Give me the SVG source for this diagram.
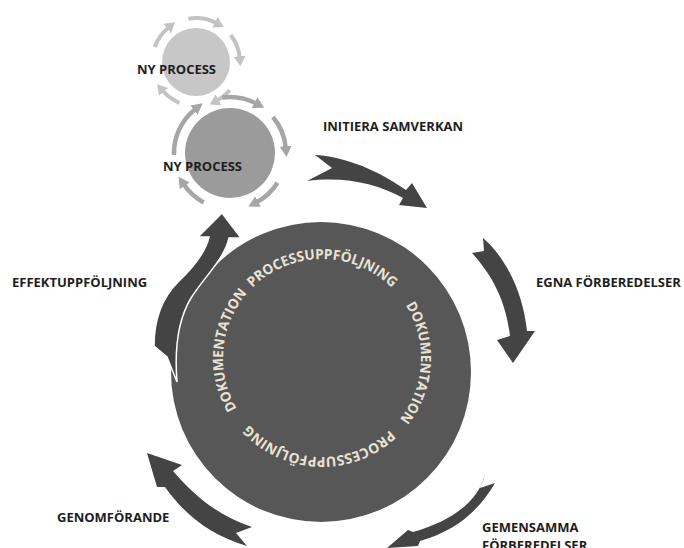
<svg xmlns="http://www.w3.org/2000/svg" width="684" height="548" viewBox="0 0 684 548">
<defs>
<style>
.lbl{font-family:"Open Sans","Liberation Sans",sans-serif;font-weight:700;font-size:13px;fill:#1e1e1e}
.ring{font-family:"Open Sans","Liberation Sans",sans-serif;font-weight:700;font-size:14px;fill:#e9e3d6}
.big{fill:#444444}
.sa1{fill:none;stroke:#c3c3c3;stroke-width:4}
.sa2{fill:none;stroke:#a6a6a6;stroke-width:4.5}
</style>
<marker id="h1" markerUnits="userSpaceOnUse" markerWidth="14" markerHeight="14" refX="2" refY="6" orient="auto">
<path d="M0,0 L10,6 L0,12 Z" fill="#c3c3c3"/>
</marker>
<marker id="h2" markerUnits="userSpaceOnUse" markerWidth="14" markerHeight="14" refX="2" refY="6" orient="auto">
<path d="M0,0 L11,6 L0,12 Z" fill="#a6a6a6"/>
</marker>
<path id="rTop" d="M223,358 A99,99 0 0 1 421,358"/>
<path id="rRight" d="M322,259 A99,99 0 0 1 322,457"/>
<path id="rBot" d="M421,358 A99,99 0 0 1 223,358"/>
<path id="rLeft" d="M322,457 A99,99 0 0 1 322,259"/>
</defs>
<rect width="684" height="548" fill="#ffffff"/>

<g id="ny-process-1">
<circle cx="196" cy="62" r="34" fill="#c7c7c7"/>
<text class="lbl" x="137" y="74">NY PROCESS</text>
</g>
<g id="ny-process-2">
<circle cx="230" cy="153" r="45" fill="#9b9b9b"/>
<text class="lbl" x="163" y="171">NY PROCESS</text>
</g>

<g id="main-circle">
<circle cx="321" cy="372" r="150" fill="#575757"/>
<text class="ring"><textPath href="#rTop" startOffset="155.5" text-anchor="middle" textLength="155" lengthAdjust="spacingAndGlyphs">PROCESSUPPFÖLJNING</textPath></text>
<text class="ring"><textPath href="#rRight" startOffset="160.5" text-anchor="middle" textLength="122" lengthAdjust="spacingAndGlyphs">DOKUMENTATION</textPath></text>
<text class="ring"><textPath href="#rBot" startOffset="159" text-anchor="middle" textLength="157" lengthAdjust="spacingAndGlyphs">PROCESSUPPFÖLJNING</textPath></text>
<text class="ring"><textPath href="#rLeft" startOffset="164" text-anchor="middle" textLength="124" lengthAdjust="spacingAndGlyphs">DOKUMENTATION</textPath></text>
</g>

<g id="connectors">
<g id="small-arrows-1">
<path class="sa1" marker-end="url(#h1)" d="M188.4,18.7 A44,44 0 0 1 216.7,23.2"/>
<path class="sa1" marker-end="url(#h1)" d="M230.7,34.9 A44,44 0 0 1 239.8,58.2"/>
<path class="sa1" marker-end="url(#h1)" d="M229.7,90.3 A44,44 0 0 1 216.7,100.8"/>
<path class="sa1" marker-end="url(#h1)" d="M179.5,102.8 A44,44 0 0 1 162.3,90.3"/>
<path class="sa1" marker-end="url(#h1)" d="M154.7,47.0 A44,44 0 0 1 168.9,27.3"/>
</g>
<g id="small-arrows-2">
<path class="sa2" marker-end="url(#h2)" d="M222.2,97.5 A56,56 0 0 1 256.3,103.6"/>
<path class="sa2" marker-end="url(#h2)" d="M272.9,117.0 A56,56 0 0 1 285.8,148.1"/>
<path class="sa2" marker-end="url(#h2)" d="M277.5,182.7 A56,56 0 0 1 256.3,202.4"/>
<path class="sa2" marker-end="url(#h2)" d="M203.7,202.4 A56,56 0 0 1 183.6,184.3"/>
<path class="sa2" marker-end="url(#h2)" d="M174.0,155.0 A56,56 0 0 1 195.5,108.9"/>
</g>
<path id="arrow-initiera" class="big" d="M315,155 C338,156 372,166 406,190 L412,183 L427,208 L399,205 L403,198 C378,184 345,176 307,181 L332,168 Z"/>
<path id="arrow-egna" class="big" d="M483,238 C506,258 523,292 527,331 L535,331 L513,363 L497,340 L510,336 C506,302 493,276 472,253 L484,251 Z"/>
<path id="arrow-gemensamma" class="big" d="M485,475 C478,500 455,520 413,532 L408,530 L387,548 L418,546 L420,541 C455,531 478,512 495,483 L480,488 Z"/>
<path id="arrow-genomforande" class="big" d="M147,453 L182,465 L173,471 C190,491 215,515 252,527 L236,533 L247,546 C210,535 185,515 165,487 L157,487 Z"/>
<path id="arrow-effekt" class="big" stroke="#ffffff" stroke-width="1.5" d="M222,213 L241,238 L229,238 C225,258 205,276 191,298 C179,318 174,345 177,382 L167,357 L154,346 C154,318 162,298 178,282 C196,265 206,250 209,237 L198,237 Z"/>
</g>

<g id="labels">
<text class="lbl" x="323" y="131">INITIERA SAMVERKAN</text>
<text class="lbl" x="536" y="287">EGNA FÖRBEREDELSER</text>
<text class="lbl" x="482" y="532">GEMENSAMMA</text>
<text class="lbl" x="482" y="550">FÖRBEREDELSER</text>
<text class="lbl" x="57" y="522">GENOMFÖRANDE</text>
<text class="lbl" x="12" y="287">EFFEKTUPPFÖLJNING</text>
</g>
</svg>
